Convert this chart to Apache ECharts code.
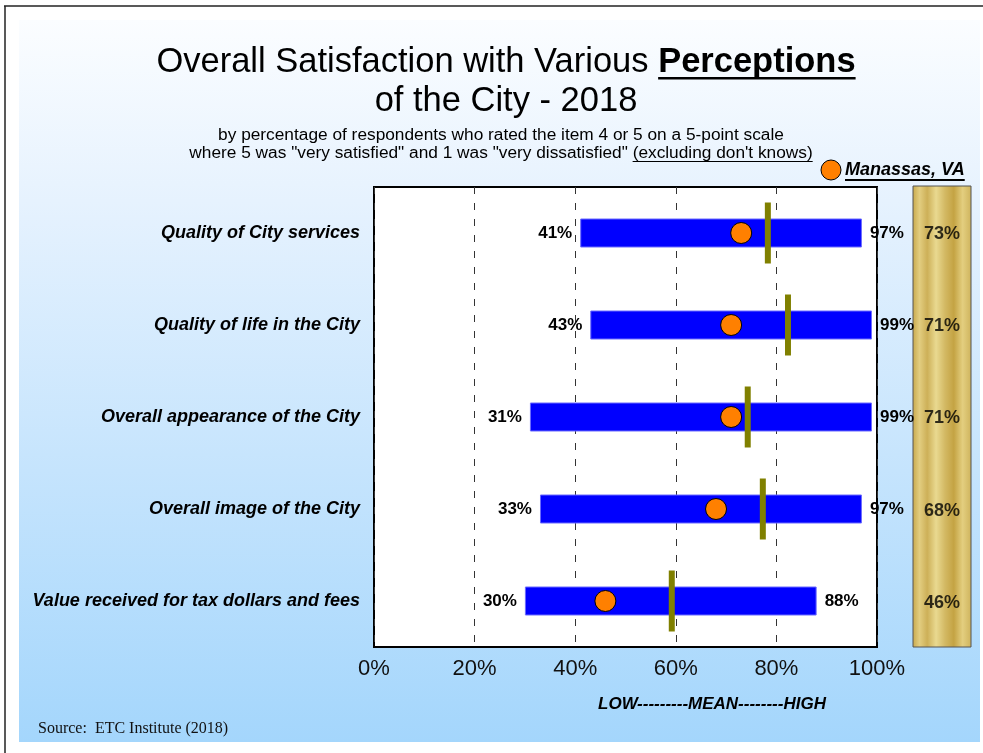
<!DOCTYPE html>
<html>
<head>
<meta charset="utf-8">
<script src="https://cdn.jsdelivr.net/npm/echarts@6/dist/echarts.min.js"></script>
<style>html,body{margin:0;padding:0;background:#fff}#c{width:983px;height:753px}</style>
</head>
<body>
<div id="c"></div>
<script>
// ---- data ----
const categories = ['Quality of City services','Quality of life in the City','Overall appearance of the City','Overall image of the City','Value received for tax dollars and fees'];
const lowValues = [41, 43, 31, 33, 30];
const highValues = [97, 99, 99, 97, 88];
const meanValues = [78.3, 82.3, 74.3, 77.3, 59.2];
const manassasValues = [73, 71, 71, 68, 46];
const xTicks = [0, 20, 40, 60, 80, 100];

const FONT = '"Liberation Sans", Arial, Helvetica, sans-serif';
function tw(text, font){ const c=document.createElement('canvas').getContext('2d'); c.font=font; return c.measureText(text).width; }

const chart = echarts.init(document.getElementById('c'), null, {renderer:'canvas'});

// title geometry
const t1a = 'Overall Satisfaction with Various ';
const t1b = 'Perceptions';
const f1a = '34.5px ' + FONT, f1b = 'bold 34.5px ' + FONT;
const w1a = tw(t1a, f1a), w1b = tw(t1b, f1b);
const tcx = 506;
const t1x = tcx - (w1a + w1b)/2;

const s2a = 'where 5 was "very satisfied" and 1 was "very dissatisfied" ';
const s2b = '(excluding don\'t knows)';
const fs = '17.3px ' + FONT;
const ws2a = tw(s2a, fs), ws2b = tw(s2b, fs);
const s2x = 501 - (ws2a + ws2b)/2;

const legText = 'Manassas, VA';
const fleg = 'italic bold 18px ' + FONT;
const wleg = tw(legText, fleg);

const rangeValues = highValues.map((h,i)=>h-lowValues[i]);

const goldGrad = new echarts.graphic.LinearGradient(0,0,1,0,[
  {offset:0, color:'#c8a84b'},
  {offset:0.12, color:'#e2cd80'},
  {offset:0.25, color:'#cdb058'},
  {offset:0.4, color:'#e9d990'},
  {offset:0.55, color:'#d3b964'},
  {offset:0.7, color:'#c4a343'},
  {offset:0.85, color:'#e3ce7f'},
  {offset:1, color:'#ceb35c'}
]);

const option = {
  backgroundColor: '#ffffff',
  animation: false,
  grid: [
    {left:374, right:106, top:187, bottom:106, show:true, backgroundColor:'#ffffff', borderColor:'#000', borderWidth:2, containLabel:false},
    {left:913, width:58, top:186, height:461, show:true, backgroundColor:goldGrad, borderColor:'#555', borderWidth:1}
  ],
  xAxis: [
    {gridIndex:0, type:'value', min:0, max:100, interval:20,
     axisLine:{show:false}, axisTick:{show:false},
     axisLabel:{formatter:'{value}%', fontSize:22, color:'#111', margin:11, fontFamily:FONT},
     splitLine:{show:true, lineStyle:{color:'#333', type:[7,9], width:1}}},
    {gridIndex:1, type:'value', min:0, max:1, show:false}
  ],
  yAxis: [
    {gridIndex:0, type:'category', data:categories, inverse:true,
     axisLine:{show:false}, axisTick:{show:false},
     axisLabel:{fontSize:18, fontWeight:'bold', fontStyle:'italic', color:'#000', margin:14, fontFamily:FONT}},
    {gridIndex:1, type:'category', data:categories, inverse:true, show:false}
  ],
  series: [
    {type:'bar', stack:'r', data:lowValues, barWidth:29, itemStyle:{color:'rgba(0,0,0,0)'}, silent:true,
     label:{show:true, position:'insideRight', distance:8, color:'#000', fontSize:17, fontWeight:'bold', fontFamily:FONT,
       formatter:p=>lowValues[p.dataIndex]+'%'}},
    {type:'bar', stack:'r', data:rangeValues, barWidth:29, itemStyle:{color:'#0000ff', borderColor:'#6b6bff', borderWidth:1}, z:2,
     label:{show:true, position:'right', distance:8, color:'#000', fontSize:17, fontWeight:'bold', fontFamily:FONT,
       formatter:p=>highValues[p.dataIndex]+'%'}},
    {type:'scatter', symbol:'rect', symbolSize:[6,61], data:meanValues.map((m,i)=>[m,i]), itemStyle:{color:'#808000', opacity:1}, z:4},
    {type:'scatter', symbol:'circle', symbolSize:21, data:manassasValues.map((m,i)=>[m,i]), itemStyle:{color:'#ff8000', borderColor:'#000', borderWidth:1, opacity:1}, z:5},
    {type:'scatter', xAxisIndex:1, yAxisIndex:1, symbolSize:1, itemStyle:{color:'rgba(0,0,0,0)'},
     data:manassasValues.map((m,i)=>[0.5,i]), z:6,
     label:{show:true, position:'inside', offset:[0,2], color:'#000', fontSize:18, fontWeight:'bold', fontFamily:FONT,
       formatter:p=>manassasValues[p.dataIndex]+'%'}}
  ],
  graphic: [
    {type:'rect', z:-10, silent:true, shape:{x:19, y:20, width:961, height:722},
     style:{fill:new echarts.graphic.LinearGradient(0,0,0,1,[{offset:0,color:'#fbfdff'},{offset:0.25,color:'#e6f2fe'},{offset:1,color:'#a4d6fc'}])}},
    {type:'line', z:10, shape:{x1:4, y1:6, x2:983, y2:6}, style:{stroke:'#222', lineWidth:1.5}},
    {type:'line', z:10, shape:{x1:5, y1:6, x2:5, y2:753}, style:{stroke:'#222', lineWidth:1.5}},
    {type:'text', z:10, style:{text:t1a, x:t1x, y:62, font:f1a, fill:'#000', textVerticalAlign:'middle', textAlign:'left'}},
    {type:'text', z:10, style:{text:t1b, x:t1x+w1a, y:62, font:f1b, fill:'#000', textVerticalAlign:'middle', textAlign:'left'}},
    {type:'rect', z:10, shape:{x:t1x+w1a, y:77, width:w1b, height:2.5}, style:{fill:'#000'}},
    {type:'text', z:10, style:{text:'of the City - 2018', x:tcx, y:101, font:f1a, fill:'#000', textVerticalAlign:'middle', textAlign:'center'}},
    {type:'text', z:10, style:{text:'by percentage of respondents who rated the item 4 or 5 on a 5-point scale', x:501, y:135, font:fs, fill:'#000', textVerticalAlign:'middle', textAlign:'center'}},
    {type:'text', z:10, style:{text:s2a, x:s2x, y:153, font:fs, fill:'#000', textVerticalAlign:'middle', textAlign:'left'}},
    {type:'text', z:10, style:{text:s2b, x:s2x+ws2a, y:153, font:fs, fill:'#000', textVerticalAlign:'middle', textAlign:'left'}},
    {type:'rect', z:10, shape:{x:s2x+ws2a, y:161, width:ws2b, height:1}, style:{fill:'#000'}},
    {type:'circle', z:10, shape:{cx:831, cy:170, r:10}, style:{fill:'#ff8000', stroke:'#000', lineWidth:1}},
    {type:'text', z:10, style:{text:legText, x:845, y:170, font:fleg, fill:'#000', textVerticalAlign:'middle', textAlign:'left'}},
    {type:'rect', z:10, shape:{x:845, y:179, width:wleg, height:2}, style:{fill:'#000'}},
    {type:'text', z:10, style:{text:'LOW---------MEAN--------HIGH', x:712, y:704, font:'italic bold 17px '+FONT, fill:'#000', textVerticalAlign:'middle', textAlign:'center'}},
    {type:'text', z:10, style:{text:'Source:  ETC Institute (2018)', x:38, y:729, font:'16px "Liberation Serif", "Times New Roman", serif', fill:'#111', textVerticalAlign:'middle', textAlign:'left'}}
  ]
};
chart.setOption(option);
</script>
</body>
</html>
